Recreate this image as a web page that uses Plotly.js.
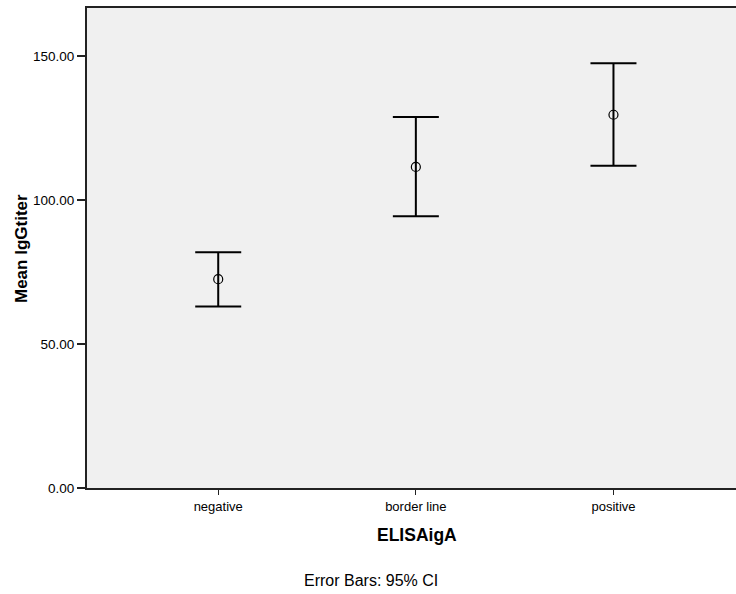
<!DOCTYPE html>
<html>
<head>
<meta charset="utf-8">
<script src="https://cdn.plot.ly/plotly-3.0.1.min.js"></script>
<style>html,body{margin:0;padding:0;background:#fff;}#chart{width:736px;height:594px;}</style>
</head>
<body>
<div id="chart"></div>
<script>
const categories = ["negative", "border line", "positive"];
const means = [72.5, 111.5, 129.6];
const ciUpper = [81.9, 128.8, 147.5];
const ciLower = [63.0, 94.4, 111.9];
const yTickVals = [0, 50, 100, 150];
const yTickText = ["0.00", "50.00", "100.00", "150.00"];

const xIdx = categories.map((c, i) => i);
const trace = {
  type: "scatter",
  mode: "markers",
  x: xIdx,
  y: means,
  marker: {symbol: "circle-open", size: 9, color: "#000", line: {width: 1.2, color: "#000"}},
  error_y: {
    type: "data",
    symmetric: false,
    array: ciUpper.map((u, i) => u - means[i]),
    arrayminus: means.map((m, i) => m - ciLower[i]),
    color: "#000",
    thickness: 2,
    width: 23
  },
  hoverinfo: "none",
  showlegend: false
};

const W = 649, H = 480;
const layout = {
  width: 736,
  height: 594,
  margin: {l: 87, r: 0, t: 8, b: 106},
  paper_bgcolor: "#ffffff",
  plot_bgcolor: "#f0f0f0",
  font: {family: "Liberation Sans, Arial, sans-serif", color: "#000"},
  xaxis: {
    range: [-0.664, 2.62],
    tickvals: xIdx,
    ticktext: categories,
    ticks: "outside",
    ticklen: 5,
    tickwidth: 1,
    tickcolor: "#222",
    showgrid: false,
    zeroline: false,
    showline: true,
    linecolor: "#222",
    linewidth: 2,
    mirror: true,
    tickfont: {size: 13}
  },
  yaxis: {
    range: [0, 166.67],
    tickvals: yTickVals,
    ticktext: yTickText,
    ticks: "outside",
    ticklen: 8,
    tickwidth: 1.5,
    tickcolor: "#222",
    showgrid: false,
    zeroline: false,
    showline: true,
    linecolor: "#222",
    linewidth: 2,
    tickfont: {size: 13.5}
  },
  annotations: [{
    text: "<b>ELISAigA</b>",
    xref: "paper", yref: "paper",
    x: (417 - 87) / W, y: -(535 - 488) / H,
    xanchor: "center", yanchor: "middle",
    showarrow: false,
    font: {size: 17.5}
  }, {
    text: "<b>Mean IgGtiter</b>",
    xref: "paper", yref: "paper",
    x: (21 - 87) / W, y: (488 - 249) / H,
    xanchor: "center", yanchor: "middle",
    textangle: -90,
    showarrow: false,
    font: {size: 17}
  }, {
    text: "Error Bars: 95% CI",
    xref: "paper", yref: "paper",
    x: (371 - 87) / W, y: -(580 - 488) / H,
    xanchor: "center", yanchor: "middle",
    showarrow: false,
    font: {size: 16}
  }]
};

Plotly.newPlot("chart", [trace], layout, {displayModeBar: false, staticPlot: true});
</script>
</body>
</html>
